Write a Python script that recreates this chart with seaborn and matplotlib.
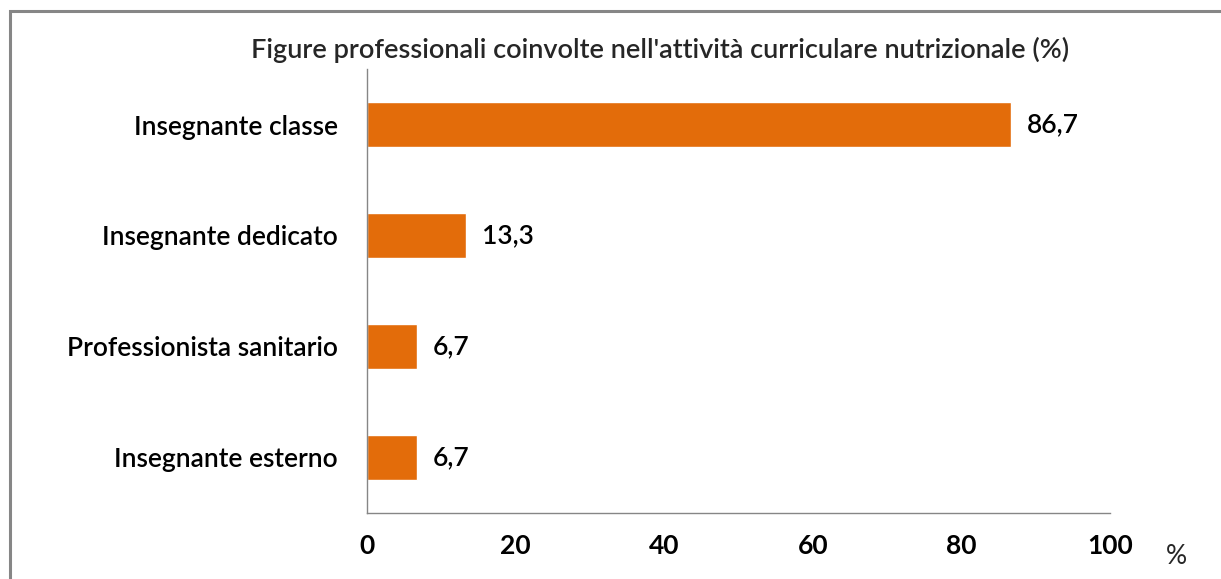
import matplotlib
matplotlib.use("Agg")
import matplotlib.pyplot as plt
import seaborn as sns
import pandas as pd
from matplotlib.patches import Rectangle

# dati
categorie = ["Insegnante classe", "Insegnante dedicato",
             "Professionista sanitario", "Insegnante esterno"]
valori = [86.7, 13.3, 6.7, 6.7]
tick_x = [0, 20, 40, 60, 80, 100]

df = pd.DataFrame({"figura": categorie, "perc": valori})

sns.set_theme(style="white")
plt.rcParams["font.family"] = ["Lato", "DejaVu Sans"]

grigio = "#868686"
arancio = "#E36C0A"
fs = 19
peso = "semibold"

fig = plt.figure(figsize=(12.21, 5.79), dpi=100)
ax = fig.add_axes([367 / 1221, 1 - 513 / 579, 743 / 1221, 444 / 579])

sns.barplot(data=df, x="perc", y="figura", orient="h", color=arancio,
            width=0.4, saturation=1, ax=ax)

ax.set_xlim(0, 100)
ax.set_ylim(3.5, -0.5)
ax.set_xticks(tick_x)
ax.set_xticklabels([str(t) for t in tick_x], fontweight="bold", fontsize=fs)
ax.set_yticks(range(len(categorie)))
ax.set_yticklabels(categorie, fontsize=fs, fontweight=peso)
ax.tick_params(axis="y", length=0, pad=21, colors="black")
ax.tick_params(axis="x", length=6, width=1, color=grigio, direction="out", pad=9,
               labelcolor="black")
ax.set_yticks([-0.5, 0.5, 1.5, 2.5, 3.5], minor=True)
ax.tick_params(axis="y", which="minor", length=6, width=1, color=grigio, direction="out")
ax.set_xlabel("")
ax.set_ylabel("")

for s in ["top", "right"]:
    ax.spines[s].set_visible(False)
for s in ["left", "bottom"]:
    ax.spines[s].set_color(grigio)
    ax.spines[s].set_linewidth(1)

etichette = [f"{v:.1f}".replace(".", ",") for v in valori]
ax.bar_label(ax.containers[0], labels=etichette, padding=11.5,
             fontsize=fs, fontweight=peso, color="black")

ax.text(1.09, -0.097, "%", transform=ax.transAxes, fontsize=fs,
        ha="center", va="center")

fig.text(660 / 1221, 1 - 50 / 579,
         "Figure professionali coinvolte nell'attività curriculare nutrizionale (%)",
         ha="center", va="center", fontsize=19.5, fontweight=peso)

# cornice esterna (tagliata a destra e in basso)
fig.patches.append(Rectangle((9.5 / 1221, -0.5), 3, 1 - 11 / 579 + 0.5,
                             transform=fig.transFigure, fill=False,
                             edgecolor=grigio, linewidth=2.2))

fig.savefig("out.png", dpi=100)
